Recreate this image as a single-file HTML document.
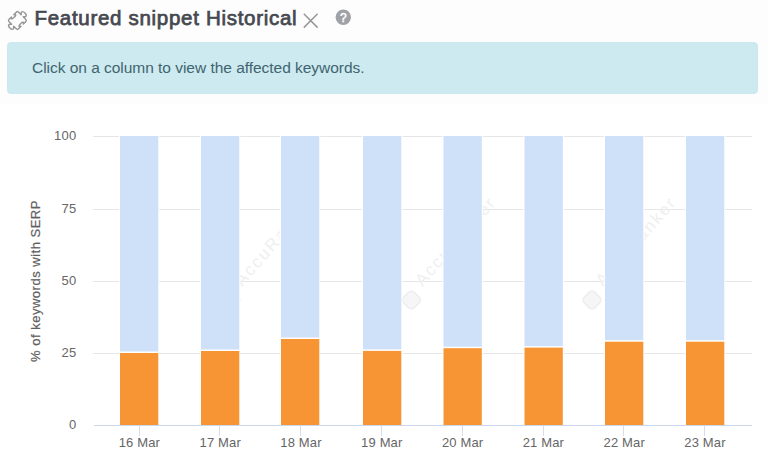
<!DOCTYPE html>
<html><head><meta charset="utf-8">
<style>
html,body{margin:0;padding:0;}
body{width:768px;height:459px;overflow:hidden;background:#fdfdfd;position:relative;font-family:"Liberation Sans",sans-serif;}
.title{position:absolute;left:34.5px;top:5.5px;font-size:20.5px;font-weight:normal;-webkit-text-stroke:0.75px #464950;color:#464950;line-height:24px;letter-spacing:0.7px;white-space:nowrap;}
.alert{position:absolute;left:7px;top:42px;width:749px;height:50px;background:#cdeaf0;border:1px solid #cbe8ee;border-radius:4px;}
.alert span{position:absolute;left:24px;top:16px;font-size:15.5px;line-height:18px;color:#41646f;letter-spacing:-0.03px;white-space:nowrap;}
</style></head><body>
<svg width="768" height="459" style="position:absolute;left:0;top:0">
<rect x="0" y="104" width="768" height="355" fill="#fff"/>
<path d="M-5.1,-6.7 L-1.4,-6.7 C-1.4,-7.6000000000000005 -3.1,-7.6000000000000005 -3.1,-8.7 C-3.1,-11.3 3.1,-11.3 3.1,-8.7 C3.1,-7.6000000000000005 1.4,-7.6000000000000005 1.4,-6.7 L5.1,-6.7 Q6.7,-6.7 6.7,-5.1 L6.7,-1.6 C6.2,-1.6 6.2,-3.0 5.6,-3.0 C4.2,-3.0 4.2,3.0 5.6,3.0 C6.2,3.0 6.2,1.6 6.7,1.6 L6.7,5.1 Q6.7,6.7 5.1,6.7 L1.4,6.7 C1.4,7.6000000000000005 3.1,7.6000000000000005 3.1,8.7 C3.1,11.3 -3.1,11.3 -3.1,8.7 C-3.1,7.6000000000000005 -1.4,7.6000000000000005 -1.4,6.7 L-5.1,6.7 Q-6.7,6.7 -6.7,5.1 L-6.7,1.6 C-6.2,1.6 -6.2,3.0 -5.6,3.0 C-4.2,3.0 -4.2,-3.0 -5.6,-3.0 C-6.2,-3.0 -6.2,-1.6 -6.7,-1.6 L-6.7,-5.1 Q-6.7,-6.7 -5.1,-6.7 Z" transform="translate(17.4,20.5) rotate(45)" fill="none" stroke="#969696" stroke-width="1.4" stroke-linejoin="round"/>
<g font-family="Liberation Sans" font-size="13" fill="#666">
<rect x="93" y="136" width="659" height="1" fill="#e6e6e6"/>
<rect x="93" y="209" width="659" height="1" fill="#e6e6e6"/>
<rect x="93" y="281" width="659" height="1" fill="#e6e6e6"/>
<rect x="93" y="353" width="659" height="1" fill="#e6e6e6"/>
<g fill="#efefef" font-family="Liberation Sans" font-size="17"><text transform="translate(242.0,287) rotate(-48.5)" letter-spacing="2">AccuRanker</text><rect x="223.5" y="292.5" width="15" height="15" rx="4" transform="rotate(45 231.0 300)" fill="#f6f6f6" stroke="#ececec" stroke-width="1.3"/><text transform="translate(422.5,287) rotate(-48.5)" letter-spacing="2">AccuRanker</text><rect x="404.0" y="292.5" width="15" height="15" rx="4" transform="rotate(45 411.5 300)" fill="#f6f6f6" stroke="#ececec" stroke-width="1.3"/><text transform="translate(603.0,287) rotate(-48.5)" letter-spacing="2">AccuRanker</text><rect x="584.5" y="292.5" width="15" height="15" rx="4" transform="rotate(45 592.0 300)" fill="#f6f6f6" stroke="#ececec" stroke-width="1.3"/></g>
<rect x="119.00" y="135" width="40.3" height="290" fill="#fff"/>
<rect x="120.00" y="136" width="38.3" height="215.5" fill="#cfe0f9"/>
<rect x="120.00" y="353" width="38.3" height="72.0" fill="#f79535"/>
<rect x="200.00" y="135" width="40.3" height="290" fill="#fff"/>
<rect x="201.00" y="136" width="38.3" height="213.5" fill="#cfe0f9"/>
<rect x="201.00" y="351" width="38.3" height="74.0" fill="#f79535"/>
<rect x="280.00" y="135" width="40.3" height="290" fill="#fff"/>
<rect x="281.00" y="136" width="38.3" height="201.5" fill="#cfe0f9"/>
<rect x="281.00" y="339.0" width="38.3" height="86.0" fill="#f79535"/>
<rect x="362.00" y="135" width="40.3" height="290" fill="#fff"/>
<rect x="363.00" y="136" width="38.3" height="213.4" fill="#cfe0f9"/>
<rect x="363.00" y="350.9" width="38.3" height="74.1" fill="#f79535"/>
<rect x="442.50" y="135" width="40.3" height="290" fill="#fff"/>
<rect x="443.50" y="136" width="38.3" height="210.7" fill="#cfe0f9"/>
<rect x="443.50" y="348.2" width="38.3" height="76.8" fill="#f79535"/>
<rect x="523.50" y="135" width="40.3" height="290" fill="#fff"/>
<rect x="524.50" y="136" width="38.3" height="210.1" fill="#cfe0f9"/>
<rect x="524.50" y="347.6" width="38.3" height="77.4" fill="#f79535"/>
<rect x="604.00" y="135" width="40.3" height="290" fill="#fff"/>
<rect x="605.00" y="136" width="38.3" height="204.2" fill="#cfe0f9"/>
<rect x="605.00" y="341.7" width="38.3" height="83.3" fill="#f79535"/>
<rect x="685.00" y="135" width="40.3" height="290" fill="#fff"/>
<rect x="686.00" y="136" width="38.3" height="204.2" fill="#cfe0f9"/>
<rect x="686.00" y="341.7" width="38.3" height="83.3" fill="#f79535"/>
<rect x="94" y="425" width="658" height="1" fill="#ccd6eb"/>
<rect x="139" y="426" width="1" height="10" fill="#d8dde8"/>
<text x="139.4" y="447" text-anchor="middle" letter-spacing="0.15">16 Mar</text>
<rect x="219" y="426" width="1" height="10" fill="#d8dde8"/>
<text x="220.2" y="447" text-anchor="middle" letter-spacing="0.15">17 Mar</text>
<rect x="300" y="426" width="1" height="10" fill="#d8dde8"/>
<text x="301.0" y="447" text-anchor="middle" letter-spacing="0.15">18 Mar</text>
<rect x="381" y="426" width="1" height="10" fill="#d8dde8"/>
<text x="381.8" y="447" text-anchor="middle" letter-spacing="0.15">19 Mar</text>
<rect x="462" y="426" width="1" height="10" fill="#d8dde8"/>
<text x="462.6" y="447" text-anchor="middle" letter-spacing="0.15">20 Mar</text>
<rect x="543" y="426" width="1" height="10" fill="#d8dde8"/>
<text x="543.4" y="447" text-anchor="middle" letter-spacing="0.15">21 Mar</text>
<rect x="623" y="426" width="1" height="10" fill="#d8dde8"/>
<text x="624.2" y="447" text-anchor="middle" letter-spacing="0.15">22 Mar</text>
<rect x="704" y="426" width="1" height="10" fill="#d8dde8"/>
<text x="705.0" y="447" text-anchor="middle" letter-spacing="0.15">23 Mar</text>
<text x="76.5" y="140" text-anchor="end" letter-spacing="0.3">100</text>
<text x="76.5" y="213" text-anchor="end" letter-spacing="0.3">75</text>
<text x="76.5" y="285" text-anchor="end" letter-spacing="0.3">50</text>
<text x="76.5" y="357" text-anchor="end" letter-spacing="0.3">25</text>
<text x="76.5" y="429" text-anchor="end" letter-spacing="0.3">0</text>
<text transform="translate(39.5,281) rotate(-90)" text-anchor="middle" fill="#606060" stroke="#606060" stroke-width="0.2" letter-spacing="0.5">% of keywords with SERP</text>
</g>
<path d="M303.8 13.8 L317.6 27.6 M317.6 13.8 L303.8 27.6" stroke="#989898" stroke-width="1.5" fill="none"/>
<circle cx="343.3" cy="17.2" r="7.7" fill="#a0a0a7"/>
<text x="343.4" y="21.8" text-anchor="middle" font-family="Liberation Sans" font-size="12" stroke="#fff" stroke-width="0.5" fill="#fff">?</text>
</svg>
<div class="title">Featured snippet Historical</div>
<div class="alert"><span>Click on a column to view the affected keywords.</span></div>
</body></html>
